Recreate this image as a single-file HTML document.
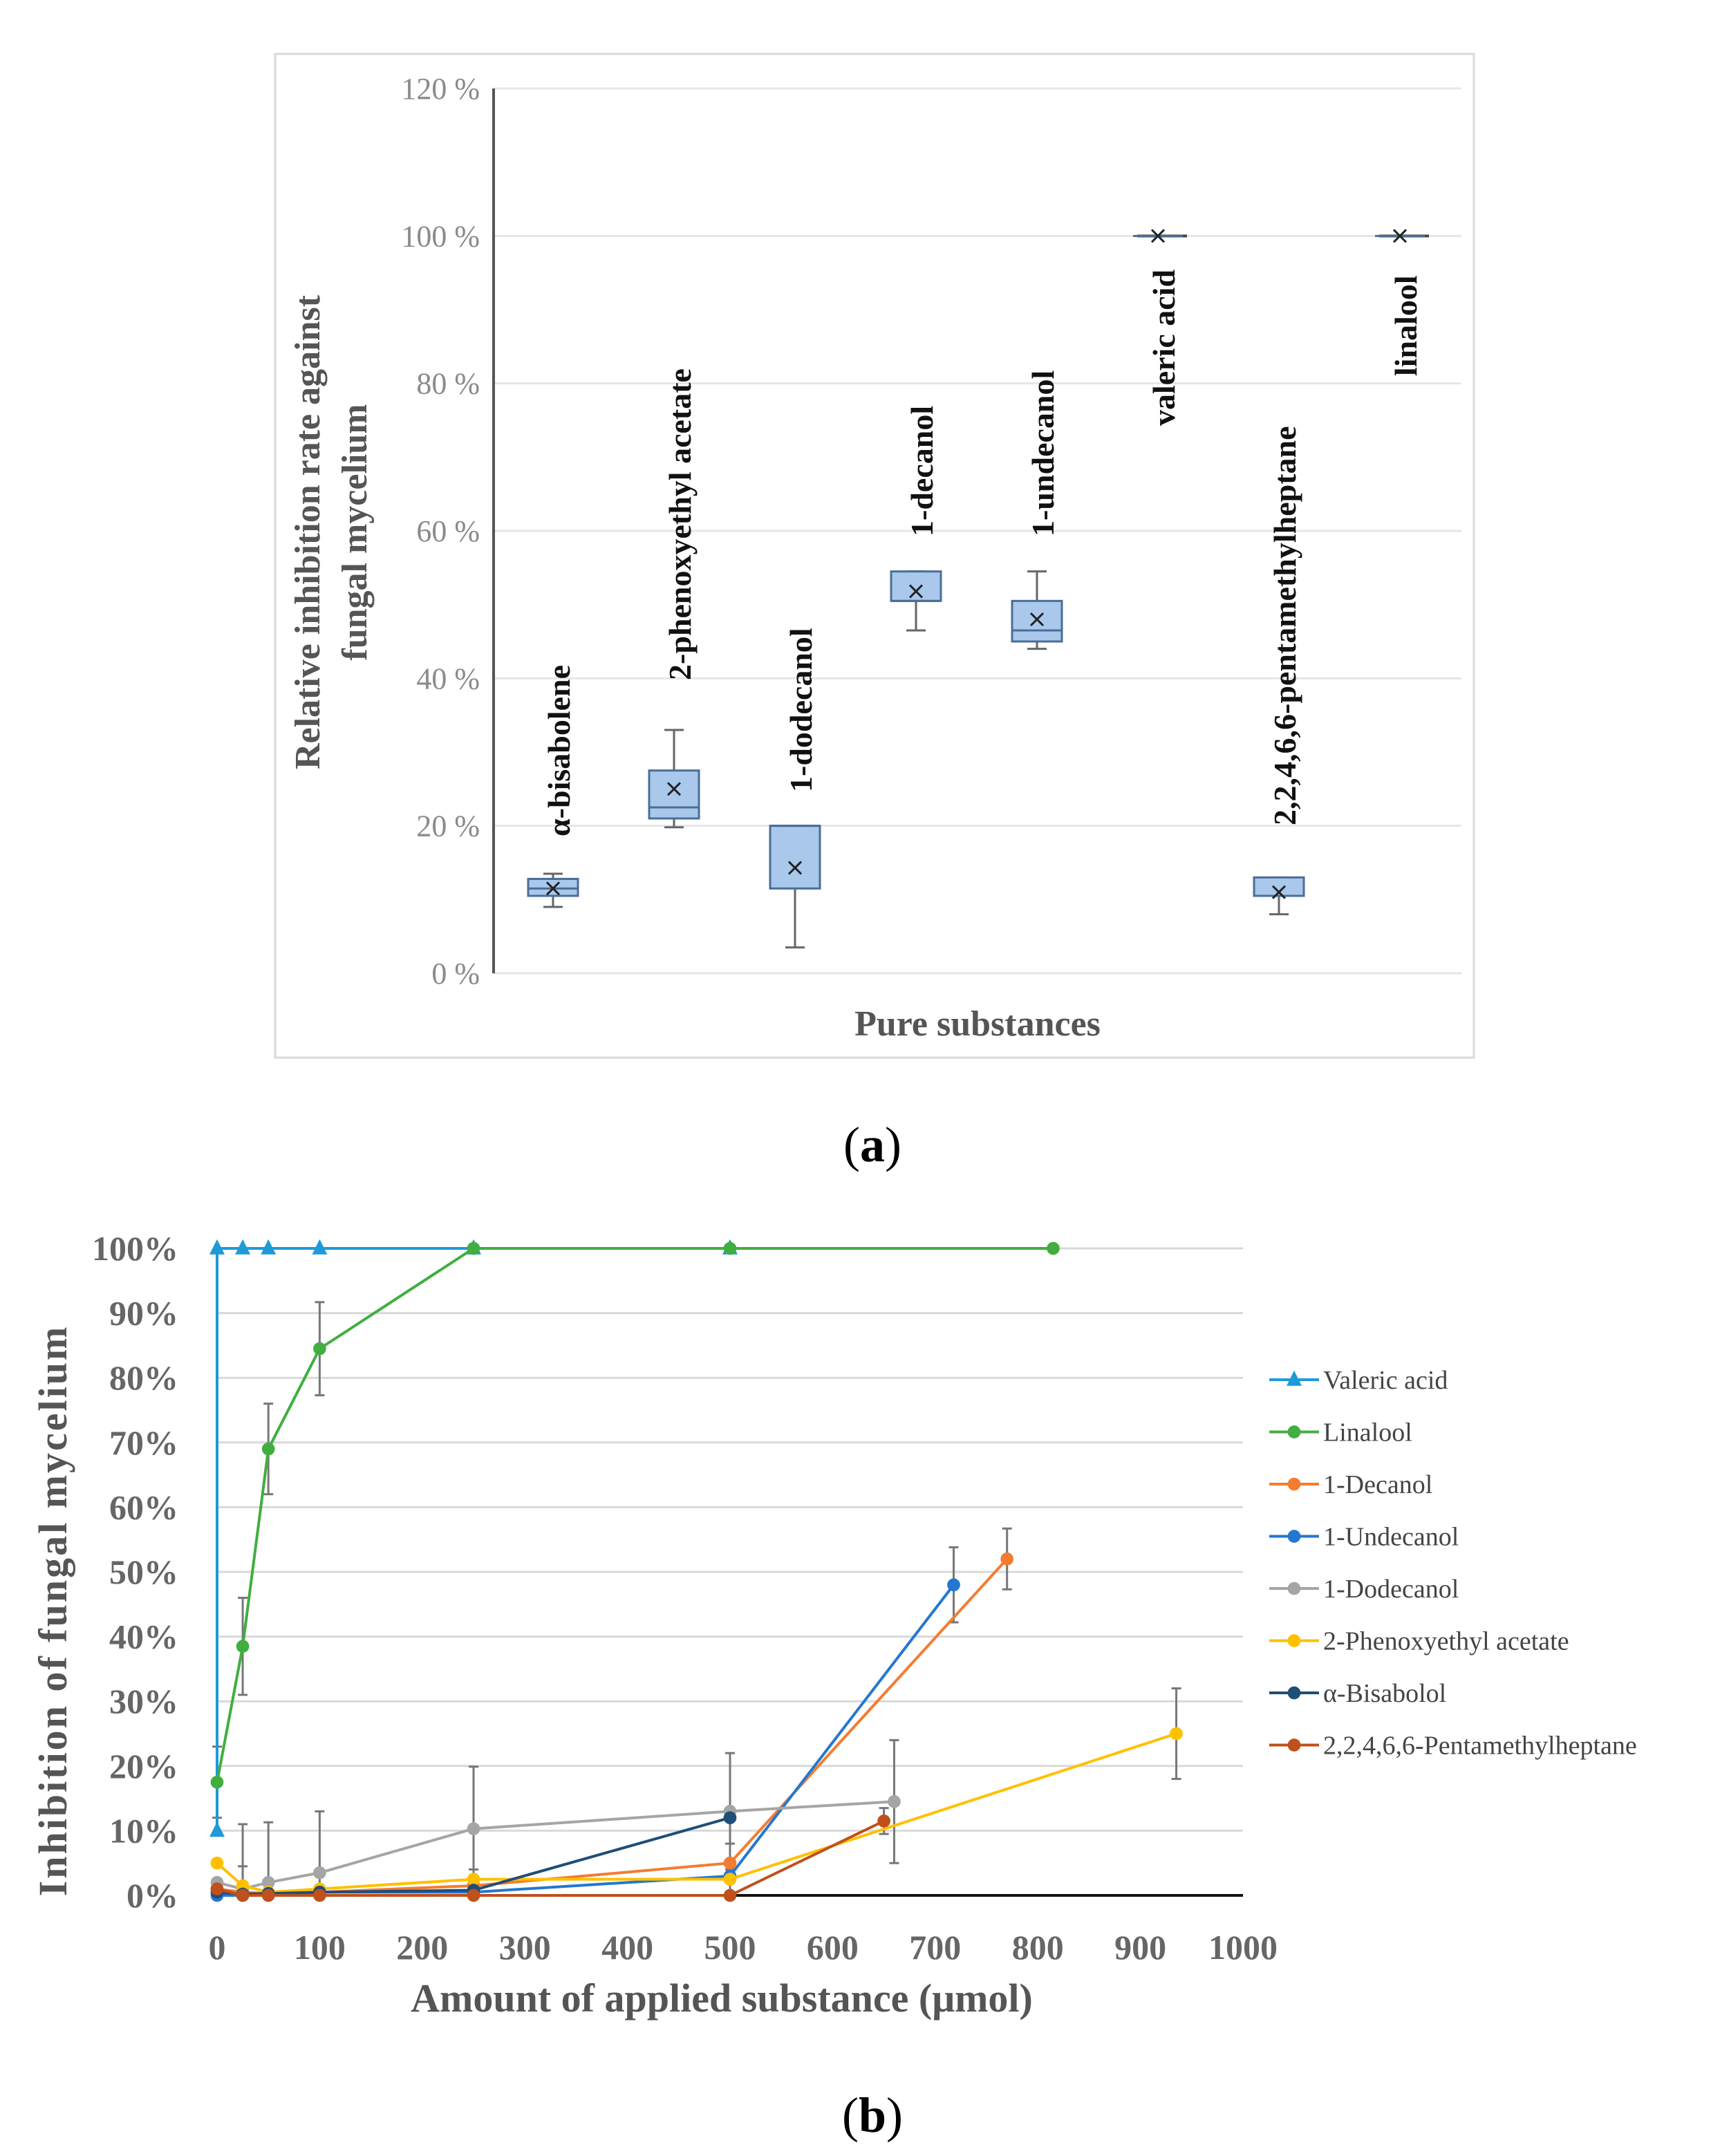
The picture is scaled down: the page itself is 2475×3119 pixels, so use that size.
<!DOCTYPE html>
<html><head><meta charset="utf-8"><style>
html,body{margin:0;padding:0;background:#fff;}
svg{display:block;}
text{font-family:"Liberation Serif",serif;}
</style></head><body>
<svg id="fig" width="2475" height="3119" viewBox="0 0 2475 3119" xmlns="http://www.w3.org/2000/svg">
<rect x="0" y="0" width="2475" height="3119" fill="#fff"/>
<g id="pa"></g>
<g id="pb"></g>
</svg>
<script>
// ---------- Panel A data ----------
const boxCats = ["α-bisabolene","2-phenoxyethyl acetate","1-dodecanol","1-decanol","1-undecanol","valeric acid","2,2,4,6,6-pentamethylheptane","linalool"];
const boxMin = [9, 19.8, 3.5, 46.5, 44, 100, 8, 100];
const boxQ1 = [10.5, 21, 11.5, 50.5, 45, 100, 10.5, 100];
const boxMed = [11.5, 22.5, 20, 50.5, 46.5, 100, 10.5, 100];
const boxQ3 = [12.8, 27.5, 20, 54.5, 50.5, 100, 13, 100];
const boxMax = [13.5, 33, 20, 54.5, 54.5, 100, 13, 100];
const boxMean = [11.5, 25, 14.3, 51.8, 48, 100, 11, 100];
const labelBottom = [1210, 984, 1146, 776, 776, 616, 1194, 544];
const aTicks = [0,20,40,60,80,100,120];
const aTickLabels = ["0 %","20 %","40 %","60 %","80 %","100 %","120 %"];

// ---------- Panel B data ----------
const seriesNames = ["Valeric acid","Linalool","1-Decanol","1-Undecanol","1-Dodecanol","2-Phenoxyethyl acetate","α-Bisabolol","2,2,4,6,6-Pentamethylheptane"];
const seriesColors = ["#1e9ad8","#41ae3f","#f47c30","#2477d1","#a5a5a5","#ffc000","#1f4e79","#c0501c"];
const valericX = [0,0,25,50,100,250,500];
const valericY = [10,100,100,100,100,100,100];
const linaloolX = [0,25,50,100,250,500,815];
const linaloolY = [17.5,38.5,69,84.5,100,100,100];
const linaloolErr = [5.5,7.5,7,7.2,0,0,0];
const decanolX = [0,25,50,100,250,500,770];
const decanolY = [1,0.5,0.3,0.5,1.5,5,52];
const decanolErr = [0,0,0,0,0,0,4.7];
const undecanolX = [0,25,50,100,250,500,718];
const undecanolY = [0,0,0,0.5,0.5,3,48];
const undecanolErr = [0,0,0,0,0,0,5.8];
const dodecanolX = [0,25,50,100,250,500,660];
const dodecanolY = [2,1,2,3.5,10.3,13,14.5];
const dodecanolErr = [0,10,9.3,9.5,9.6,9,9.5];
const phenoxyX = [0,25,50,100,250,500,935];
const phenoxyY = [5,1.5,0.5,1,2.5,2.5,25];
const phenoxyErr = [0,3,0,0,1.5,5.5,7];
const bisabololX = [0,25,50,100,250,500];
const bisabololY = [0.5,0.2,0.3,0.5,0.8,12];
const pentaX = [0,25,50,100,250,500,650];
const pentaY = [1,0,0,0,0,0,11.5];
const pentaErr = [0,0,0,0,0,0,2];
const bXTicks = [0,100,200,300,400,500,600,700,800,900,1000];
const bYTicks = [0,10,20,30,40,50,60,70,80,90,100];

const NS="http://www.w3.org/2000/svg";
function mk(parent,tag,attrs,txt){const e=document.createElementNS(NS,tag);for(const k in attrs)e.setAttribute(k,attrs[k]);if(txt!==undefined)e.textContent=txt;parent.appendChild(e);return e;}

// ---------- Panel A ----------
const pa=document.getElementById('pa');
const aY=v=>1408-(v/120)*1280;
const aX=i=>800+i*175;
let r=mk(pa,'rect',{x:398,y:78,width:1734,height:1452,fill:'#fff',stroke:'#d9d9d9','stroke-width':3});

aTicks.forEach((t,i)=>{
  let g=mk(pa,'line',{x1:714,x2:2114,y1:aY(t),y2:aY(t),stroke:'#e6e6e6','stroke-width':3});
  
  let tl=mk(pa,'text',{x:694,y:aY(t)+15,'text-anchor':'end','font-size':44,fill:'#8a8a8a'},aTickLabels[i]);
  
});
let ax=mk(pa,'line',{x1:714,x2:714,y1:aY(120),y2:aY(0),stroke:'#555','stroke-width':4});

boxCats.forEach((c,i)=>{
  const x=aX(i),w=72;
  const g=mk(pa,'g',{});
  
  mk(g,'line',{x1:x,x2:x,y1:aY(boxMax[i]),y2:aY(boxMin[i]),stroke:'#666','stroke-width':3});
  mk(g,'line',{x1:x-14,x2:x+14,y1:aY(boxMax[i]),y2:aY(boxMax[i]),stroke:'#666','stroke-width':3});
  mk(g,'line',{x1:x-14,x2:x+14,y1:aY(boxMin[i]),y2:aY(boxMin[i]),stroke:'#666','stroke-width':3});
  const h=aY(boxQ1[i])-aY(boxQ3[i]);
  if(h>1) mk(g,'rect',{x:x-w/2,y:aY(boxQ3[i]),width:w,height:h,fill:'#a9c8ec',stroke:'#4a6e96','stroke-width':3});
  else mk(g,'line',{x1:x-w/2+6,x2:x+w/2+6,y1:aY(boxMed[i]),y2:aY(boxMed[i]),stroke:'#444','stroke-width':4});
  mk(g,'line',{x1:x-w/2,x2:x+w/2,y1:aY(boxMed[i]),y2:aY(boxMed[i]),stroke:'#4a6e96','stroke-width':3});
  const my=aY(boxMean[i]);
  mk(g,'path',{d:`M${x-9} ${my-9}L${x+9} ${my+9}M${x+9} ${my-9}L${x-9} ${my+9}`,stroke:'#222','stroke-width':3});
  const lx=x+8, ly=labelBottom[i];
  let t=mk(pa,'text',{x:0,y:0,transform:`translate(${lx+16},${ly}) rotate(-90)`,'font-size':46,'font-weight':'bold',fill:'#111'},c);
  
});
let yt=mk(pa,'text',{transform:'translate(462,770) rotate(-90)','text-anchor':'middle','font-size':52,'font-weight':'bold',fill:'#555'},'Relative inhibition  rate against');

let yt2=mk(pa,'text',{transform:'translate(530,770) rotate(-90)','text-anchor':'middle','font-size':52,'font-weight':'bold',fill:'#555'},'fungal mycelium');

let xt=mk(pa,'text',{x:1414,y:1498,'text-anchor':'middle','font-size':52,'font-weight':'bold',fill:'#555'},'Pure substances');

let ca=mk(pa,'text',{x:1262,y:1680,'text-anchor':'middle','font-size':72,fill:'#000'});

ca.innerHTML='(<tspan font-weight="bold">a</tspan>)';

// ---------- Panel B ----------
const pb=document.getElementById('pb');
const bX=v=>314+v/1000*1484;
const bY=v=>2742-v/100*936;
bYTicks.forEach(t=>{
  if(t>0){let g=mk(pb,'line',{x1:bX(0),x2:bX(1000),y1:bY(t),y2:bY(t),stroke:'#d9d9d9','stroke-width':3});
  }
  let tl=mk(pb,'text',{x:258,y:bY(t)+17,'text-anchor':'end','font-size':50,'font-weight':'bold',fill:'#666'},t+'%');
  
});
bXTicks.forEach(t=>{
  let tl=mk(pb,'text',{x:bX(t),y:2834,'text-anchor':'middle','font-size':50,'font-weight':'bold',fill:'#666'},String(t));
  
});
let xa=mk(pb,'line',{x1:bX(0),x2:bX(1000),y1:bY(0),y2:bY(0),stroke:'#111','stroke-width':4});


const allSeries=[
 [valericX,valericY,null,'tri'],
 [linaloolX,linaloolY,linaloolErr,'dot'],
 [decanolX,decanolY,decanolErr,'dot'],
 [undecanolX,undecanolY,undecanolErr,'dot'],
 [dodecanolX,dodecanolY,dodecanolErr,'dot'],
 [phenoxyX,phenoxyY,phenoxyErr,'dot'],
 [bisabololX,bisabololY,null,'dot'],
 [pentaX,pentaY,pentaErr,'dot']];
function marker(g,x,y,type,col,s){
  if(type==='tri') mk(g,'path',{d:`M${x} ${y-s*1.2}L${x+s} ${y+s*0.8}L${x-s} ${y+s*0.8}Z`,fill:col});
  else mk(g,'circle',{cx:x,cy:y,r:s*0.85,fill:col});
}
allSeries.forEach((s,si)=>{
  if(!s[2])return;
  const g=mk(pb,'g',{});
  
  s[0].forEach((xv,k)=>{const e=s[2][k];if(!e)return;const x=bX(xv);
    const hi=bY(s[1][k]+e), lo=bY(Math.max(0,s[1][k]-e));
    mk(g,'path',{d:`M${x} ${hi}V${lo}M${x-7} ${hi}h14M${x-7} ${lo}h14`,stroke:'#777','stroke-width':3,fill:'none'});});
});
allSeries.forEach((s,si)=>{
  const g=mk(pb,'g',{});
  
  
  const pts=s[0].map((xv,k)=>bX(xv)+','+bY(s[1][k])).join(' ');
  mk(g,'polyline',{points:pts,fill:'none',stroke:seriesColors[si],'stroke-width':4});
  s[0].forEach((xv,k)=>marker(g,bX(xv),bY(s[1][k]),s[3],seriesColors[si],11));
});
const lg=mk(pb,'g',{});

seriesNames.forEach((n,i)=>{
  const y=1996+i*75.5;
  const e=mk(lg,'g',{});
  
  mk(e,'line',{x1:1836,x2:1908,y1:y,y2:y,stroke:seriesColors[i],'stroke-width':4});
  marker(e,1872,y,i===0?'tri':'dot',seriesColors[i],11);
  mk(e,'text',{x:1914,y:y+13,'font-size':38,fill:'#444'},n);
});
let ybt=mk(pb,'text',{transform:'translate(96,2330) rotate(-90)','text-anchor':'middle','font-size':58,'font-weight':'bold',fill:'#555','letter-spacing':'3'},'Inhibition of fungal mycelium');

let xbt=mk(pb,'text',{x:1044,y:2910,'text-anchor':'middle','font-size':58,'font-weight':'bold',fill:'#555'},'Amount of applied substance (μmol)');

let cb=mk(pb,'text',{x:1262,y:3084,'text-anchor':'middle','font-size':72,fill:'#000'});

cb.innerHTML='(<tspan font-weight="bold">b</tspan>)';
</script>
</body></html>
